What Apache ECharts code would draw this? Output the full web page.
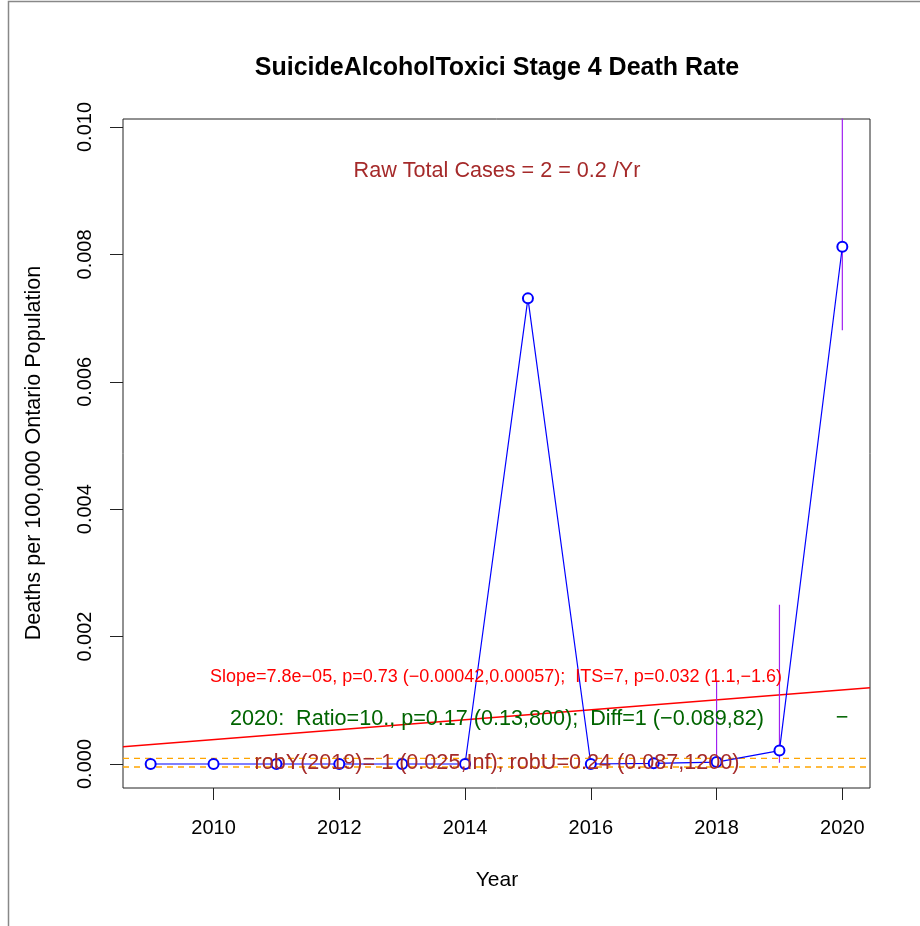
<!DOCTYPE html>
<html>
<head>
<meta charset="utf-8">
<script src="https://cdn.jsdelivr.net/npm/echarts@6/dist/echarts.min.js"></script>
<style>html,body{margin:0;padding:0;background:#fff;}#c{width:920px;height:926px;}</style>
</head>
<body>
<div id="c"></div>
<script>
const years = [2009,2010,2011,2012,2013,2014,2015,2016,2017,2018,2019,2020];
const rates = [0,0,0,0,0,0,0.00731,0,0.00001,0.00003,0.00021,0.00812];
const ciYears = [2018,2019,2020];
const ciLow = [0.00001,0.00002,0.00681];
const ciHigh = [0.00129,0.0025,0.0125];
const trendX = [2008.56,2020.44];
const trendY = [0.000272,0.001198];
const refLines = [0.0000895,-0.000047];
const xTicks = [2010,2012,2014,2016,2018,2020];
const yTicks = [0,0.002,0.004,0.006,0.008,0.010];

const FONT = 'Liberation Sans, Arial, Helvetica, sans-serif';
const chart = echarts.init(document.getElementById('c'));

const ciData = [];
ciYears.forEach((y,i)=>{ ciData.push([y,ciLow[i]],[y,ciHigh[i]],[y,null]); });

const option = {
  backgroundColor:'#fff',
  animation:false,
  grid:{left:123,top:119,right:50,bottom:138,show:true,borderColor:'#222',borderWidth:1,backgroundColor:'transparent'},
  xAxis:{type:'value',min:2008.56,max:2020.44,
    axisLine:{show:false,onZero:false},splitLine:{show:false},
    axisTick:{show:true,customValues:xTicks,length:12,lineStyle:{color:'#222'}},
    axisLabel:{customValues:xTicks,margin:30,color:'#000',fontSize:20,fontFamily:FONT,formatter:v=>String(v)}
  },
  yAxis:{type:'value',min:-0.000377,max:0.010126,
    axisLine:{show:false,onZero:false},splitLine:{show:false},
    axisTick:{show:true,customValues:yTicks,length:13,lineStyle:{color:'#222'}},
    axisLabel:{customValues:yTicks,rotate:90,margin:38,color:'#000',fontSize:20,fontFamily:FONT,formatter:v=>v.toFixed(3),verticalAlign:'middle',align:'center'}
  },
  series:[
    {type:'line',name:'ref1',data:[[trendX[0],refLines[0]],[trendX[1],refLines[0]]],symbol:'none',lineStyle:{color:'#FFA500',width:1.3,type:[6,5]},silent:true,z:2},
    {type:'line',name:'ref2',data:[[trendX[0],refLines[1]],[trendX[1],refLines[1]]],symbol:'none',lineStyle:{color:'#FFA500',width:1.3,type:[6,5]},silent:true,z:2},
    {type:'line',name:'trend',data:trendX.map((x,i)=>[x,trendY[i]]),symbol:'none',lineStyle:{color:'#FF0000',width:1.5},silent:true,z:3},
    {type:'line',name:'ci',data:ciData,symbol:'none',connectNulls:false,lineStyle:{color:'#A020F0',width:1.2},silent:true,z:3,clip:true},
    {type:'line',name:'rate',data:years.map((y,i)=>[y,rates[i]]),symbol:'emptyCircle',symbolSize:10,
      itemStyle:{color:'#0000FF',borderWidth:1},lineStyle:{color:'#0000FF',width:1.2},silent:true,z:4}
  ],
  graphic:[
    {type:'rect',shape:{x:8.5,y:1.5,width:960,height:960},style:{fill:'none',stroke:'#888',lineWidth:1.5},z:-1,silent:true},
    {type:'text',x:497,y:68,style:{text:'SuicideAlcoholToxici Stage 4 Death Rate',font:'bold 25px '+FONT,fill:'#000',textAlign:'center',textVerticalAlign:'middle'},z:100},
    {type:'text',x:497,y:171,style:{text:'Raw Total Cases = 2 = 0.2 /Yr',font:'21.6px '+FONT,fill:'#A52A2A',textAlign:'center',textVerticalAlign:'middle'},z:100},
    {type:'text',x:496,y:677,style:{text:'Slope=7.8e\u221205, p=0.73 (\u22120.00042,0.00057);  ITS=7, p=0.032 (1.1,\u22121.6)',font:'18px '+FONT,fill:'#FF0000',textAlign:'center',textVerticalAlign:'middle'},z:100},
    {type:'text',x:497,y:719,style:{text:'2020:  Ratio=10., p=0.17 (0.13,800);  Diff=1 (\u22120.089,82)',font:'21.6px '+FONT,fill:'#006400',textAlign:'center',textVerticalAlign:'middle'},z:100},
    {type:'text',x:842,y:718,style:{text:'\u2212',font:'21.6px '+FONT,fill:'#006400',textAlign:'center',textVerticalAlign:'middle'},z:100},
    {type:'text',x:497,y:763,style:{text:'robY(2019)= 1 (0.025,Inf); robU=0.24 (0.087,1200)',font:'21.6px '+FONT,fill:'#A52A2A',textAlign:'center',textVerticalAlign:'middle'},z:100},
    {type:'text',x:497,y:880,style:{text:'Year',font:'21px '+FONT,fill:'#000',textAlign:'center',textVerticalAlign:'middle'},z:100},
    {type:'text',x:34,y:453,rotation:Math.PI/2,style:{text:'Deaths per 100,000 Ontario Population',font:'21.6px '+FONT,fill:'#000',textAlign:'center',textVerticalAlign:'middle'},z:100}
  ]
};
chart.setOption(option);
</script>
</body>
</html>
